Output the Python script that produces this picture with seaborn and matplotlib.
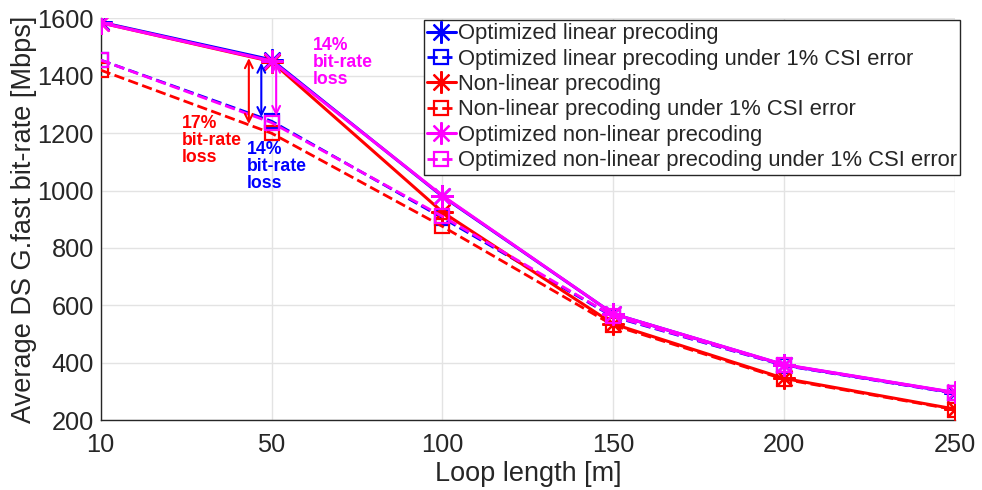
import numpy as np
import pandas as pd
import matplotlib
matplotlib.use("Agg")
import matplotlib.pyplot as plt
import seaborn as sns

loop_lengths = [10, 50, 100, 150, 200, 250]
y_ticks = [200, 400, 600, 800, 1000, 1200, 1400, 1600]

opt_lin = [1587, 1456, 980, 570, 392, 295]
opt_lin_csi = [1455, 1242, 905, 560, 390, 293]
nonlin = [1585, 1450, 925, 535, 345, 238]
nonlin_csi = [1420, 1200, 875, 530, 342, 236]
opt_nonlin = [1585, 1452, 982, 570, 393, 296]
opt_nonlin_csi = [1455, 1237, 910, 562, 391, 294]

labels = [
    "Optimized linear precoding",
    "Optimized linear precoding under 1% CSI error",
    "Non-linear precoding",
    "Non-linear precoding under 1% CSI error",
    "Optimized non-linear precoding",
    "Optimized non-linear precoding under 1% CSI error",
]
series = [opt_lin, opt_lin_csi, nonlin, nonlin_csi, opt_nonlin, opt_nonlin_csi]
colors = ["#0000ff", "#0000ff", "#ff0000", "#ff0000", "#ff00ff", "#ff00ff"]
solid = [True, False, True, False, True, False]

sns.set_style("white")
plt.rcParams["font.family"] = ["Liberation Sans", "DejaVu Sans"]

fig = plt.figure(figsize=(9.82, 4.90), dpi=100)
ax = fig.add_axes([100.7 / 982, 1 - 420 / 490, (955 - 100.7) / 982, (420 - 18.5) / 490])

xpos = np.arange(len(loop_lengths))
for lab, vals, col, s in zip(labels, series, colors, solid):
    df = pd.DataFrame({"x": xpos, "y": vals})
    if s:
        sns.lineplot(data=df, x="x", y="y", ax=ax, color=col, linewidth=2.2,
                     marker=(8, 2, 0), markersize=16, markeredgewidth=1.6,
                     markeredgecolor=col, label=lab, zorder=3)
    else:
        sns.lineplot(data=df, x="x", y="y", ax=ax, color=col, linewidth=2.0,
                     linestyle="--", marker="s", markersize=10, markeredgewidth=1.6,
                     markerfacecolor="none", markeredgecolor=col, label=lab, zorder=3)

ax.set_xlim(0, len(loop_lengths) - 1)
ax.set_ylim(200, 1600)
ax.set_xticks(xpos)
ax.set_xticklabels([str(v) for v in loop_lengths])
ax.set_yticks(y_ticks)
ax.grid(True, color="#e3e3e3", linewidth=1.0)
ax.set_axisbelow(True)
for side in ["top", "right"]:
    ax.spines[side].set_visible(False)
for side in ["left", "bottom"]:
    ax.spines[side].set_color("#262626")
    ax.spines[side].set_linewidth(1.0)
ax.tick_params(axis="both", direction="in", length=6, width=1.0, colors="#262626",
               labelsize=18.3, pad=5)
ax.tick_params(axis="x", pad=9)
ax.set_xlabel("Loop length [m]", fontsize=19.5, color="#262626", labelpad=3)
ax.set_ylabel("Average DS G.fast bit-rate [Mbps]", fontsize=19.5, color="#262626", labelpad=0)

# Arrows
arrow_kw = dict(arrowstyle="<->", lw=1.5, mutation_scale=14, shrinkA=0, shrinkB=0)
ax.annotate("", xy=(0.867, 1462), xytext=(0.867, 1232),
            arrowprops=dict(color="#ff0000", **arrow_kw))
ax.annotate("", xy=(0.94, 1446), xytext=(0.94, 1256),
            arrowprops=dict(color="#0000ff", **arrow_kw))
ax.annotate("", xy=(1.027, 1446), xytext=(1.027, 1260),
            arrowprops=dict(color="#ff00ff", **arrow_kw))

txt_kw = dict(fontsize=12.7, fontweight="bold", va="top", ha="left", linespacing=1.0)
ax.text(0.474, 1262, "17%\nbit-rate\nloss", color="#ff0000", **txt_kw)
ax.text(0.854, 1172, "14%\nbit-rate\nloss", color="#0000ff", **txt_kw)
ax.text(1.239, 1536, "14%\nbit-rate\nloss", color="#ff00ff", **txt_kw)

leg = ax.legend(loc="upper right", bbox_to_anchor=(960 / 982, 1 - 20 / 490),
                bbox_transform=fig.transFigure, borderaxespad=0, fontsize=15.8,
                frameon=True, fancybox=False, edgecolor="#262626", framealpha=1,
                handlelength=1.3, handletextpad=0.1, borderpad=0.15, labelspacing=0.2)
leg.get_frame().set_linewidth(1.0)

fig.savefig("out.png", dpi=100)
